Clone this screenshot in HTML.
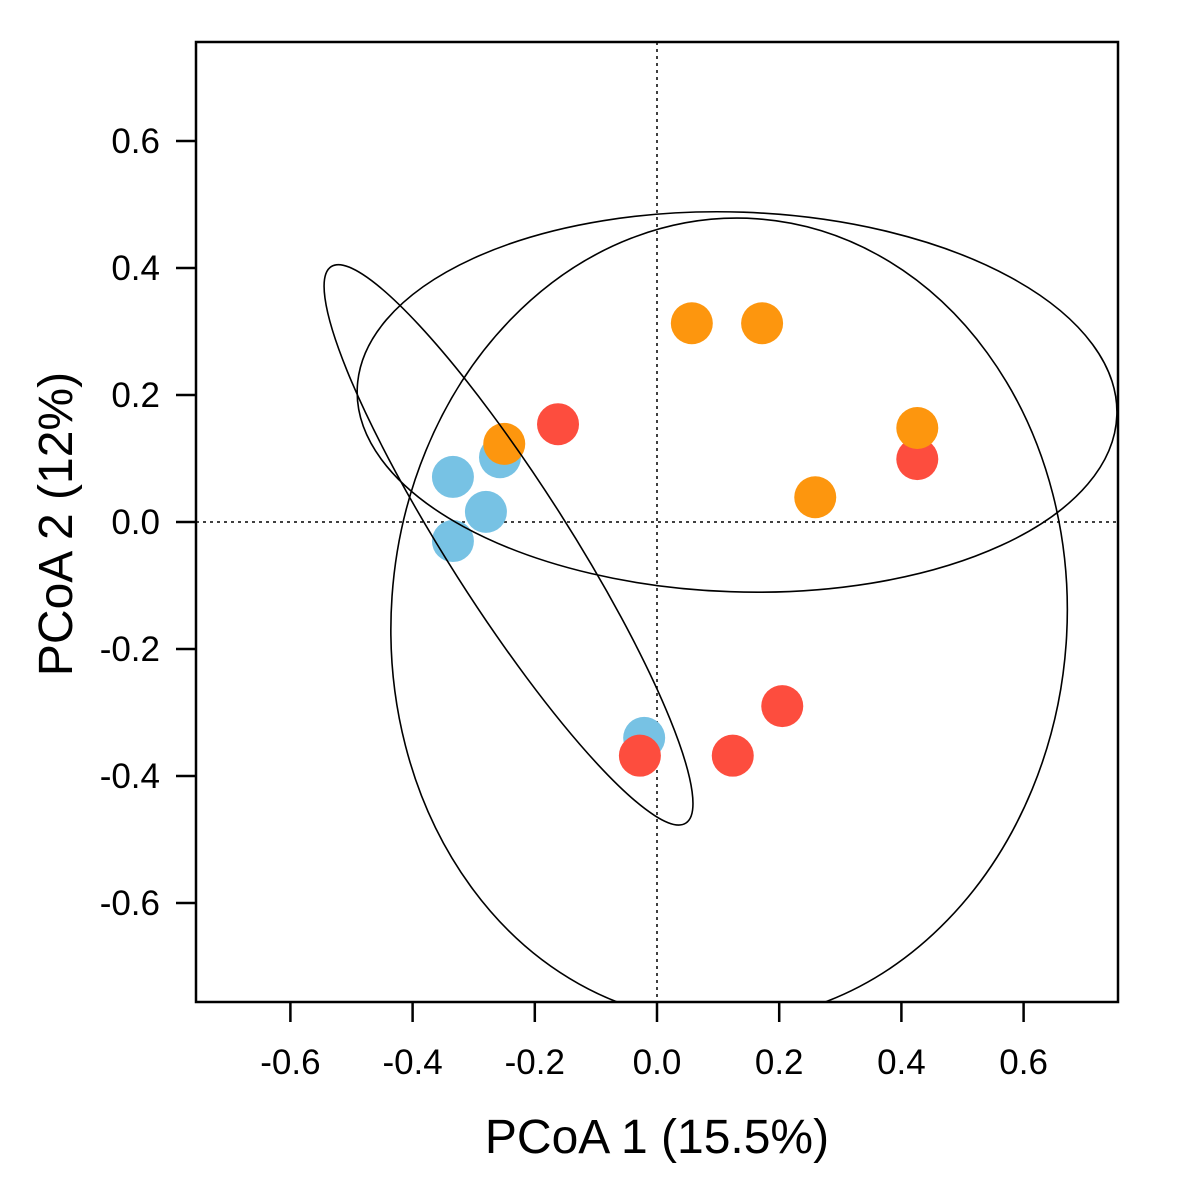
<!DOCTYPE html>
<html><head><meta charset="utf-8"><style>
html,body{margin:0;padding:0;background:#fff;}
svg{display:block;font-family:"Liberation Sans",Arial,sans-serif;}
</style></head><body>
<svg id="chart" width="1200" height="1200" viewBox="0 0 1200 1200">
<defs><clipPath id="clip"><rect x="196" y="42" width="922" height="960"/></clipPath></defs>
<g id="marks" clip-path="url(#clip)"></g>
<g id="ells" clip-path="url(#clip)"></g>
<rect x="196" y="42" width="922" height="960" fill="none" stroke="#000" stroke-width="2.5"/>
<g id="axes"></g>
<text x="657" y="1153" font-size="48" text-anchor="middle">PCoA 1 (15.5%)</text>
<text transform="translate(72,524) rotate(-90)" font-size="48" text-anchor="middle">PCoA 2 (12%)</text>
</svg>
<script>
const blueX=[-0.334,-0.257,-0.280,-0.334,-0.021];
const blueY=[0.071,0.102,0.016,-0.030,-0.340];
const redX=[-0.162,0.426,0.205,0.124,-0.028];
const redY=[0.154,0.099,-0.290,-0.368,-0.368];
const orangeX=[0.057,0.172,0.426,0.259,-0.250];
const orangeY=[0.313,0.313,0.148,0.039,0.123];
const xTicks=[-0.6,-0.4,-0.2,0.0,0.2,0.4,0.6];
const yTicks=[0.6,0.4,0.2,0.0,-0.2,-0.4,-0.6];
const xTickLabels=["-0.6","-0.4","-0.2","0.0","0.2","0.4","0.6"];
const yTickLabels=["0.6","0.4","0.2","0.0","-0.2","-0.4","-0.6"];
const ellCX=[0.131,0.118,-0.243];
const ellCY=[0.189,-0.154,-0.036];
const ellRX=[0.622,0.553,0.54];
const ellRY=[0.299,0.633,0.095];
const ellRot=[2,4,57.5];

const NS="http://www.w3.org/2000/svg";
const sx=v=>657+v*611, sy=v=>522-v*635;
const mk=(t,a,p)=>{const e=document.createElementNS(NS,t);for(const k in a)e.setAttribute(k,a[k]);p.appendChild(e);return e;};
const axes=document.getElementById('axes');
const marks=document.getElementById('marks');
const ells=document.getElementById('ells');
let l=mk('line',{x1:sx(0),x2:sx(0),y1:42,y2:1002,stroke:'#000','stroke-width':1.5,'stroke-dasharray':'3,4'},marks);


l=mk('line',{x1:196,x2:1118,y1:sy(0),y2:sy(0),stroke:'#000','stroke-width':1.5,'stroke-dasharray':'3,4'},marks);


xTicks.forEach((v,i)=>{
  const t=mk('line',{x1:sx(v),x2:sx(v),y1:1002,y2:1022,stroke:'#000','stroke-width':2.5},axes);
  
  
  const tx=mk('text',{x:sx(v),y:1074,'font-size':35,'text-anchor':'middle'},axes);tx.textContent=xTickLabels[i];
  
  
});
yTicks.forEach((v,i)=>{
  const t=mk('line',{x1:176,x2:196,y1:sy(v),y2:sy(v),stroke:'#000','stroke-width':2.5},axes);
  
  
  const tx=mk('text',{x:160,y:sy(v)+12,'font-size':35,'text-anchor':'end'},axes);tx.textContent=yTickLabels[i];
  
  
});
function pts(X,Y,col,name){X.forEach((x,i)=>{
  const c=mk('circle',{cx:sx(x),cy:sy(Y[i]),r:21,fill:col},marks);
  
  
});}
pts(blueX,blueY,'#77c2e4','point-blue');
pts(redX,redY,'#fd4d3e','point-red');
pts(orangeX,orangeY,'#fd960e','point-orange');
ellCX.forEach((cx,i)=>{
  const e=mk('ellipse',{cx:sx(cx),cy:sy(ellCY[i]),rx:ellRX[i]*611,ry:ellRY[i]*635,fill:'none',stroke:'#000','stroke-width':1.6,transform:`rotate(${ellRot[i]} ${sx(cx)} ${sy(ellCY[i])})`},ells);
  
  
});
</script>
</body></html>
